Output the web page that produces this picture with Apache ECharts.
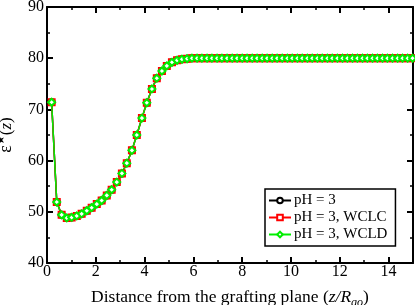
<!DOCTYPE html>
<html><head><meta charset="utf-8">
<script src="https://cdn.jsdelivr.net/npm/echarts@6/dist/echarts.min.js"></script>
<style>html,body{margin:0;padding:0;background:#fff}#c{width:415px;height:305px}</style>
</head><body><div id="c"></div>
<script>
const zValues = [0.19,0.40,0.60,0.81,1.01,1.22,1.42,1.63,1.83,2.04,2.24,2.45,2.65,2.86,3.07,3.27,3.48,3.68,3.89,4.09,4.30,4.50,4.71,4.91,5.12,5.33,5.53,5.74,5.94,6.15,6.35,6.56,6.76,6.97,7.17,7.38,7.59,7.79,8.00,8.20,8.41,8.61,8.82,9.02,9.23,9.43,9.64,9.85,10.05,10.26,10.46,10.67,10.87,11.08,11.28,11.49,11.69,11.90,12.11,12.31,12.52,12.72,12.93,13.13,13.34,13.54,13.75,13.95,14.16,14.37,14.57,14.78,14.98];
const epsPH3 = [71.4,51.9,49.4,48.8,48.9,49.2,49.6,50.2,50.8,51.5,52.2,53.2,54.3,55.8,57.5,59.5,62.0,65.0,68.3,71.3,74.0,76.1,77.5,78.5,79.2,79.6,79.8,79.9,80.0,80.0,80.0,80.0,80.0,80.0,80.0,80.0,80.0,80.0,80.0,80.0,80.0,80.0,80.0,80.0,80.0,80.0,80.0,80.0,80.0,80.0,80.0,80.0,80.0,80.0,80.0,80.0,80.0,80.0,80.0,80.0,80.0,80.0,80.0,80.0,80.0,80.0,80.0,80.0,80.0,80.0,80.0,80.0,80.0];
const epsWCLC = [71.4,51.9,49.4,48.8,48.9,49.2,49.6,50.2,50.8,51.5,52.2,53.2,54.3,55.8,57.5,59.5,62.0,65.0,68.3,71.3,74.0,76.1,77.5,78.5,79.2,79.6,79.8,79.9,80.0,80.0,80.0,80.0,80.0,80.0,80.0,80.0,80.0,80.0,80.0,80.0,80.0,80.0,80.0,80.0,80.0,80.0,80.0,80.0,80.0,80.0,80.0,80.0,80.0,80.0,80.0,80.0,80.0,80.0,80.0,80.0,80.0,80.0,80.0,80.0,80.0,80.0,80.0,80.0,80.0,80.0,80.0,80.0,80.0];
const epsWCLD = [71.4,51.9,49.4,48.8,48.9,49.2,49.6,50.2,50.8,51.5,52.2,53.2,54.3,55.8,57.5,59.5,62.0,65.0,68.3,71.3,74.0,76.1,77.5,78.5,79.2,79.6,79.8,79.9,80.0,80.0,80.0,80.0,80.0,80.0,80.0,80.0,80.0,80.0,80.0,80.0,80.0,80.0,80.0,80.0,80.0,80.0,80.0,80.0,80.0,80.0,80.0,80.0,80.0,80.0,80.0,80.0,80.0,80.0,80.0,80.0,80.0,80.0,80.0,80.0,80.0,80.0,80.0,80.0,80.0,80.0,80.0,80.0,80.0];
const seriesNames = ['pH = 3','pH = 3, WCLC','pH = 3, WCLD'];
const xTicks = {min:0, max:15, interval:2};
const yTicks = {min:40, max:90, interval:10};

const F = 'Liberation Serif';
const pairs = arr => zValues.map((z,i)=>[z, arr[i]]);
const chart = echarts.init(document.getElementById('c'), null, {renderer:'canvas'});
const axisCommon = {
  axisLine:{show:true, onZero:false, lineStyle:{color:'#000', width:2}},
  axisTick:{show:true, inside:true, length:6, lineStyle:{color:'#000', width:2}},
  minorTick:{show:true, splitNumber:2, length:3, lineStyle:{color:'#000', width:1.5}},
  splitLine:{show:false}
};
chart.setOption({
  animation:false,
  grid:{left:47, right:2, top:7, bottom:42, outerBoundsMode:'none', containLabel:false},
  xAxis:[
    Object.assign({type:'value', position:'bottom', min:xTicks.min, max:xTicks.max, interval:xTicks.interval,
      axisLabel:{color:'#000', fontFamily:F, fontSize:16, margin:1, showMaxLabel:false},
      name:'Distance from the grafting plane ({i|z/R}{s|go}{p|)}', nameLocation:'middle', nameGap:22,
      nameTextStyle:{color:'#000', fontFamily:F, fontSize:17.5,
        rich:{i:{fontFamily:F, fontStyle:'italic', fontSize:17.5, color:'#000'},
              s:{fontFamily:F, fontStyle:'italic', fontSize:12, color:'#000', padding:[12,0,0,0]},
              p:{fontFamily:F, fontSize:17.5, color:'#000'}}}
    }, axisCommon),
    Object.assign({type:'value', position:'top', min:xTicks.min, max:xTicks.max, interval:xTicks.interval,
      axisLabel:{show:false}}, axisCommon)
  ],
  yAxis:[
    Object.assign({type:'value', position:'left', min:yTicks.min, max:yTicks.max, interval:yTicks.interval,
      axisLabel:{color:'#000', fontFamily:F, fontSize:16, margin:3},
      name:'{e|ε}{s|★}{p|(}{i|z}{p|)}', nameLocation:'middle', nameGap:30, nameRotate:90,
      nameTextStyle:{color:'#000', fontFamily:F, fontSize:17,
        rich:{e:{fontFamily:F, fontSize:18, color:'#000'},
              s:{fontFamily:'DejaVu Sans', fontSize:11, color:'#000', padding:[0,0,10,0]},
              i:{fontFamily:F, fontStyle:'italic', fontSize:17, color:'#000'},
              p:{fontFamily:F, fontSize:17, color:'#000'}}}
    }, axisCommon),
    Object.assign({type:'value', position:'right', min:yTicks.min, max:yTicks.max, interval:yTicks.interval,
      axisLabel:{show:false}}, axisCommon)
  ],
  legend:{
    left:265, top:189, orient:'vertical', itemGap:2, itemWidth:22, itemHeight:7,
    padding:[4,8,4,3], borderColor:'#000', borderWidth:1.5, backgroundColor:'#fff',
    textStyle:{fontFamily:F, fontSize:15, color:'#000', padding:[0,0,0,-2]},
    data:seriesNames
  },
  series:[
    {name:seriesNames[0], type:'line', data:pairs(epsPH3), symbol:'emptyCircle', symbolSize:6,
     itemStyle:{color:'#000', borderWidth:1}, lineStyle:{color:'#000', width:1.5}},
    {name:seriesNames[1], type:'line', data:pairs(epsWCLC), symbol:'emptyRect', symbolSize:6,
     itemStyle:{color:'#ff0000', borderWidth:1}, lineStyle:{color:'#ff0000', width:1.5}},
    {name:seriesNames[2], type:'line', data:pairs(epsWCLD), symbol:'emptyDiamond', symbolSize:7,
     itemStyle:{color:'#00ee00', borderWidth:1.5}, lineStyle:{color:'#00ee00', width:1.5}}
  ]
});
</script></body></html>
